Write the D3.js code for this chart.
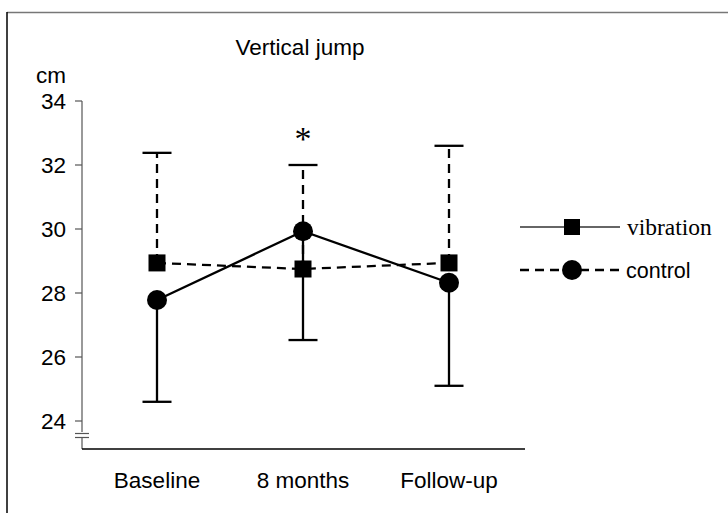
<!DOCTYPE html>
<html>
<head>
<meta charset="utf-8">
<script src="https://cdn.jsdelivr.net/npm/d3@7"></script>
<style>
  body { margin: 0; background: #fff; }
  text { font-family: "Liberation Sans", Arial, sans-serif; fill: #000; }
</style>
</head>
<body>
<div id="app"></div>
<script>
// data
const timepoints = ['Baseline', '8 months', 'Follow-up'];
const vibrationMean = [28.94, 28.75, 28.94];
const vibrationUpper = [32.38, 32.0, 32.6];
const controlMean = [27.78, 29.93, 28.32];
const controlLower = [24.6, 26.53, 25.1];
const yTicks = [24, 26, 28, 30, 32, 34];

const W = 728, H = 513;
const svg = d3.select('#app').append('svg')
  .attr('width', W).attr('height', H);

// outer frame (top + left only)
svg.append('line').attr('x1', 7).attr('x2', W).attr('y1', 12.5).attr('y2', 12.5)
  .attr('stroke', '#777').attr('stroke-width', 1.5);
svg.append('line').attr('x1', 7).attr('x2', 7).attr('y1', 12).attr('y2', H)
  .attr('stroke', '#000').attr('stroke-width', 1.5);

const x = d3.scalePoint().domain(timepoints).range([84, 522]).padding(0.5);
const y = d3.scaleLinear().domain([24, 32]).range([421, 165]);

const axisX = 82;
const axisBottom = 449;
const fs = 22.5;
const serif = '"Liberation Serif", "Times New Roman", serif';

// y axis with break
svg.append('line').attr('x1', axisX).attr('x2', axisX).attr('y1', y(34)).attr('y2', 432)
  .attr('stroke', '#777').attr('stroke-width', 1.5);
svg.append('line').attr('x1', axisX).attr('x2', axisX).attr('y1', 438).attr('y2', axisBottom)
  .attr('stroke', '#777').attr('stroke-width', 1.5);
[433.5, 437.5].forEach(yy => {
  svg.append('line').attr('x1', 75).attr('x2', 89).attr('y1', yy).attr('y2', yy)
    .attr('stroke', '#555').attr('stroke-width', 1.2);
});
svg.selectAll('.ytick').data(yTicks).join('line')
  .attr('x1', 75).attr('x2', axisX).attr('y1', d => y(d)).attr('y2', d => y(d))
  .attr('stroke', '#555').attr('stroke-width', 1.2);
svg.selectAll('.ylab').data(yTicks).join('text')
  .attr('x', 66).attr('y', d => y(d)).attr('dy', '0.35em')
  .attr('text-anchor', 'end').attr('font-size', fs).text(d => d);

// x axis
svg.append('line').attr('x1', axisX).attr('x2', 525).attr('y1', axisBottom).attr('y2', axisBottom)
  .attr('stroke', '#000').attr('stroke-width', 1.5);
svg.selectAll('.xlab').data(timepoints).join('text')
  .attr('x', d => x(d)).attr('y', 488).attr('text-anchor', 'middle')
  .attr('font-size', fs).text(d => d);

// titles
svg.append('text').attr('x', 300).attr('y', 55).attr('text-anchor', 'middle')
  .attr('font-size', fs).text('Vertical jump');
svg.append('text').attr('x', 36).attr('y', 83).attr('font-size', fs).text('cm');

const dash = '9,6';
const cap = 14.5;

// vibration: dashed error bars up, dashed connecting line, squares
timepoints.forEach((t, i) => {
  svg.append('line').attr('x1', x(t)).attr('x2', x(t))
    .attr('y1', y(vibrationMean[i])).attr('y2', y(vibrationUpper[i]))
    .attr('stroke', '#000').attr('stroke-width', 2.3).attr('stroke-dasharray', dash);
  svg.append('line').attr('x1', x(t) - cap).attr('x2', x(t) + cap)
    .attr('y1', y(vibrationUpper[i])).attr('y2', y(vibrationUpper[i]))
    .attr('stroke', '#000').attr('stroke-width', 2.3);
});
// control: solid error bars down
timepoints.forEach((t, i) => {
  svg.append('line').attr('x1', x(t)).attr('x2', x(t))
    .attr('y1', y(controlMean[i])).attr('y2', y(controlLower[i]))
    .attr('stroke', '#000').attr('stroke-width', 2.3);
  svg.append('line').attr('x1', x(t) - cap).attr('x2', x(t) + cap)
    .attr('y1', y(controlLower[i])).attr('y2', y(controlLower[i]))
    .attr('stroke', '#000').attr('stroke-width', 2.3);
});

const lineV = d3.line().x((d, i) => x(timepoints[i])).y(d => y(d));
svg.append('path').attr('d', lineV(vibrationMean)).attr('fill', 'none')
  .attr('stroke', '#000').attr('stroke-width', 2.3).attr('stroke-dasharray', dash);
svg.append('path').attr('d', lineV(controlMean)).attr('fill', 'none')
  .attr('stroke', '#000').attr('stroke-width', 2.3);

const sq = 17;
svg.selectAll('.sq').data(vibrationMean).join('rect')
  .attr('x', (d, i) => x(timepoints[i]) - sq / 2).attr('y', d => y(d) - sq / 2)
  .attr('width', sq).attr('height', sq).attr('fill', '#000');
svg.selectAll('.ci').data(controlMean).join('circle')
  .attr('cx', (d, i) => x(timepoints[i])).attr('cy', d => y(d))
  .attr('r', 10).attr('fill', '#000');

// significance marker
svg.append('text').attr('x', x('8 months')).attr('y', 150).attr('text-anchor', 'middle')
  .style('font-family', serif)
  .attr('font-size', 34).text('*');

// legend
const lg = svg.append('g');
lg.append('line').attr('x1', 520).attr('x2', 620).attr('y1', 227).attr('y2', 227)
  .attr('stroke', '#333').attr('stroke-width', 1.3);
lg.append('rect').attr('x', 572 - 8).attr('y', 227 - 8).attr('width', 16).attr('height', 16)
  .attr('fill', '#000');
lg.append('text').attr('x', 627).attr('y', 227).attr('dy', '0.35em')
  .style('font-family', serif)
  .attr('font-size', 23.5).text('vibration');
lg.append('line').attr('x1', 520).attr('x2', 620).attr('y1', 270).attr('y2', 270)
  .attr('stroke', '#000').attr('stroke-width', 2.3).attr('stroke-dasharray', '9,6');
lg.append('circle').attr('cx', 572).attr('cy', 270).attr('r', 10).attr('fill', '#000');
lg.append('text').attr('x', 626).attr('y', 270).attr('dy', '0.35em')
  .attr('font-size', 21.5).text('control');
</script>
</body>
</html>
